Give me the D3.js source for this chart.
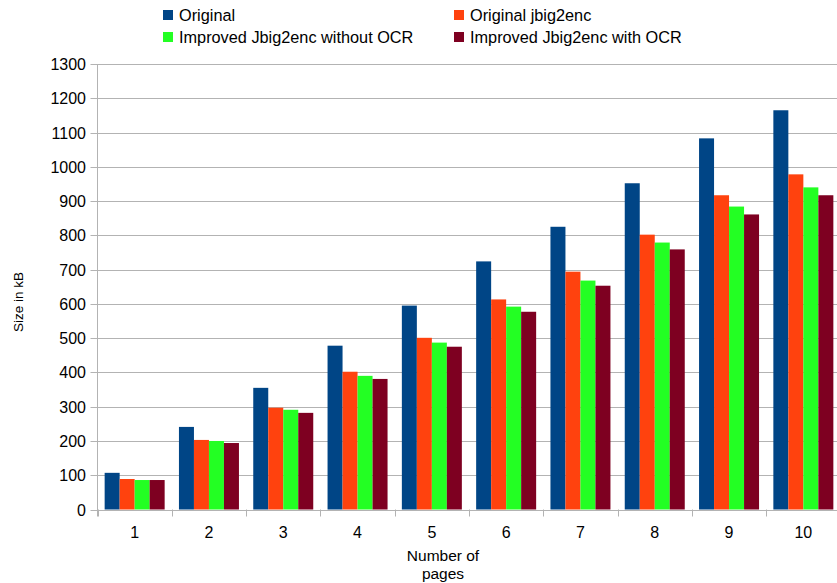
<!DOCTYPE html>
<html>
<head>
<meta charset="utf-8">
<script src="https://cdn.jsdelivr.net/npm/d3@7"></script>
<style>
  body { margin: 0; background: #fff; }
  text { font-family: "Liberation Sans", Arial, sans-serif; fill: #000; }
</style>
</head>
<body>
<div id="chart"></div>
<script>
const pages = ["1", "2", "3", "4", "5", "6", "7", "8", "9", "10"];
const seriesNames = [
  "Original",
  "Original jbig2enc",
  "Improved Jbig2enc without OCR",
  "Improved Jbig2enc with OCR",
];
const original = [107, 241, 355, 478, 595, 724, 825, 952, 1083, 1165];
const originalJbig2 = [89, 203, 297, 402, 501, 613, 694, 802, 917, 978];
const improvedNoOcr = [86, 200, 291, 390, 487, 592, 668, 779, 884, 940];
const improvedOcr = [86, 194, 282, 381, 475, 577, 653, 759, 861, 917];
const yTicks = d3.range(0, 1301, 100);
const colors = ["#004586", "#ff420e", "#23ff23", "#7e0021"];

const allSeries = [original, originalJbig2, improvedNoOcr, improvedOcr];

const width = 837, height = 583;
const plot = { left: 97.5, top: 64, right: 840.5, bottom: 509.5 };

const svg = d3
  .select("#chart")
  .append("svg")
  .attr("width", width)
  .attr("height", height);

const x = d3.scaleBand().domain(pages).range([plot.left, plot.right]);
const groupW = 60;
const x1 = d3
  .scaleBand()
  .domain(d3.range(allSeries.length))
  .range([0, groupW]);
const y = d3.scaleLinear().domain([0, 1300]).range([plot.bottom, plot.top]);

// gridlines
svg
  .append("g")
  .selectAll("line")
  .data(yTicks)
  .join("line")
  .attr("x1", plot.left - 7)
  .attr("x2", width)
  .attr("y1", (d) => Math.round(y(d)) + 0.5)
  .attr("y2", (d) => Math.round(y(d)) + 0.5)
  .attr("stroke", "#b3b3b3")
  .attr("stroke-width", 1);

// bars
const groups = svg
  .append("g")
  .selectAll("g")
  .data(pages)
  .join("g")
  .attr("transform", (d) => `translate(${x(d) + (x.bandwidth() - groupW) / 2},0)`);

groups
  .selectAll("rect")
  .data((d, i) => allSeries.map((s, k) => ({ k, v: s[i] })))
  .join("rect")
  .attr("x", (d) => x1(d.k))
  .attr("width", x1.bandwidth())
  .attr("y", (d) => y(d.v))
  .attr("height", (d) => y(0) - y(d.v))
  .attr("fill", (d) => colors[d.k]);

// y axis line + labels
svg
  .append("line")
  .attr("x1", plot.left)
  .attr("x2", plot.left)
  .attr("y1", plot.top)
  .attr("y2", plot.bottom + 7)
  .attr("stroke", "#b3b3b3");

svg
  .append("g")
  .selectAll("text")
  .data(yTicks)
  .join("text")
  .attr("x", 86)
  .attr("y", (d) => y(d) + 6)
  .attr("text-anchor", "end")
  .style("font-size", "16px")
  .text((d) => d);

// x axis ticks + labels
svg
  .append("g")
  .selectAll("line")
  .data(pages.concat(["end"]))
  .join("line")
  .attr("x1", (d, i) => Math.round(plot.left + i * x.bandwidth()) + 0.5)
  .attr("x2", (d, i) => Math.round(plot.left + i * x.bandwidth()) + 0.5)
  .attr("y1", plot.bottom)
  .attr("y2", plot.bottom + 7)
  .attr("stroke", "#b3b3b3");

svg
  .append("g")
  .selectAll("text")
  .data(pages)
  .join("text")
  .attr("x", (d) => x(d) + x.bandwidth() / 2)
  .attr("y", 537.5)
  .attr("text-anchor", "middle")
  .style("font-size", "16px")
  .text((d) => d);

// axis titles
const xt = svg
  .append("text")
  .attr("text-anchor", "middle")
  .style("font-size", "15.5px");
xt.append("tspan").attr("x", 443).attr("y", 561).text("Number of");
xt.append("tspan").attr("x", 443).attr("y", 579).text("pages");

svg
  .append("text")
  .attr("transform", "translate(23,302) rotate(-90)")
  .attr("text-anchor", "middle")
  .style("font-size", "13.5px")
  .text("Size in kB");

// legend
const legendPos = [
  [163, 10],
  [454, 10],
  [163, 32],
  [454, 32],
];
const legend = svg
  .append("g")
  .selectAll("g")
  .data(seriesNames)
  .join("g")
  .attr("transform", (d, i) => `translate(${legendPos[i][0]},${legendPos[i][1]})`);

legend
  .append("rect")
  .attr("width", 10)
  .attr("height", 10)
  .attr("fill", (d, i) => colors[i]);

legend
  .append("text")
  .attr("x", 16)
  .attr("y", 11)
  .style("font-size", "16.3px")
  .text((d) => d);
</script>
</body>
</html>
